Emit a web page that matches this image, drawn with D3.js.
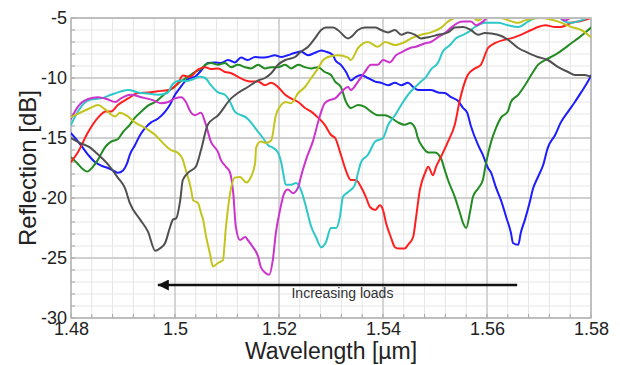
<!DOCTYPE html>
<html>
<head>
<meta charset="utf-8">
<script src="https://cdn.jsdelivr.net/npm/d3@7"></script>
<style>
  body { margin: 0; background: #fff; }
  svg { display: block; font-family: "Liberation Sans", Arial, sans-serif; }
</style>
</head>
<body>
<svg id="chart" width="620" height="365"></svg>
<script>
// Reflection spectra, [wavelength µm, reflection dB].
const gray = [[1.4800,-15.0],[1.4817,-15.4],[1.4837,-15.8],[1.4850,-16.3],[1.4869,-17.1],[1.4890,-18.3],[1.4904,-19.2],[1.4913,-20.4],[1.4933,-21.8],[1.4948,-22.8],[1.4962,-24.4],[1.4971,-24.2],[1.4981,-23.75],[1.4990,-22.5],[1.4996,-21.8],[1.5002,-21.7],[1.5010,-20.2],[1.5015,-18.5],[1.5025,-17.9],[1.5040,-17.4],[1.5050,-16.0],[1.5063,-13.9],[1.5083,-13.1],[1.5108,-11.7],[1.5121,-11.25],[1.5140,-10.75],[1.5160,-10.2],[1.5173,-10.0],[1.5185,-9.6],[1.5198,-8.9],[1.5212,-8.5],[1.5231,-8.25],[1.5242,-7.8],[1.5256,-7.4],[1.5269,-6.7],[1.5281,-6.0],[1.5290,-5.8],[1.5304,-5.8],[1.5313,-6.0],[1.5333,-6.7],[1.5338,-6.6],[1.5352,-6.0],[1.5365,-5.8],[1.5385,-5.8],[1.5396,-6.0],[1.5410,-6.2],[1.5423,-6.0],[1.5435,-6.4],[1.5448,-6.2],[1.5462,-6.4],[1.5473,-6.7],[1.5487,-6.6],[1.5506,-6.4],[1.5525,-6.2],[1.5538,-5.8],[1.5554,-5.75],[1.5569,-6.0],[1.5583,-6.4],[1.5596,-6.25],[1.5621,-6.4],[1.5640,-6.8],[1.5660,-7.5],[1.5679,-7.9],[1.5698,-8.25],[1.5717,-8.5],[1.5737,-9.1],[1.5756,-9.5],[1.5769,-9.75],[1.5788,-9.75],[1.5800,-9.9]];

const yellow = [[1.4800,-13.25],[1.4817,-12.9],[1.4837,-12.5],[1.4852,-12.25],[1.4865,-12.6],[1.4885,-13.2],[1.4894,-12.9],[1.4906,-13.1],[1.4923,-13.7],[1.4948,-14.3],[1.4962,-14.75],[1.4981,-15.6],[1.4992,-16.0],[1.5006,-16.25],[1.5015,-16.8],[1.5021,-17.7],[1.5031,-19.3],[1.5035,-20.2],[1.5044,-20.4],[1.5050,-21.25],[1.5054,-21.8],[1.5060,-23.25],[1.5067,-24.6],[1.5073,-25.7],[1.5083,-25.4],[1.5092,-25.2],[1.5098,-22.4],[1.5106,-19.6],[1.5115,-18.3],[1.5125,-18.25],[1.5137,-18.7],[1.5146,-18.25],[1.5154,-17.1],[1.5156,-15.8],[1.5165,-15.3],[1.5175,-15.4],[1.5185,-15.2],[1.5194,-13.1],[1.5204,-12.25],[1.5213,-12.0],[1.5223,-12.1],[1.5237,-11.25],[1.5250,-10.75],[1.5262,-10.0],[1.5275,-9.2],[1.5285,-8.5],[1.5294,-8.25],[1.5313,-8.1],[1.5333,-8.3],[1.5338,-8.5],[1.5352,-7.5],[1.5371,-7.0],[1.5390,-7.4],[1.5404,-7.0],[1.5423,-7.25],[1.5442,-7.0],[1.5454,-6.7],[1.5473,-6.4],[1.5492,-6.2],[1.5512,-5.8],[1.5525,-5.3],[1.5538,-5.0],[1.5554,-4.9],[1.5569,-4.9],[1.5583,-5.2],[1.5596,-4.9],[1.5627,-5.0],[1.5660,-5.4],[1.5673,-5.2],[1.5704,-5.0],[1.5737,-5.3],[1.5762,-5.75],[1.5781,-6.0],[1.5800,-6.6]];

const magenta = [[1.4800,-13.4],[1.4813,-12.4],[1.4833,-11.75],[1.4852,-11.6],[1.4869,-11.75],[1.4885,-12.0],[1.4896,-11.7],[1.4915,-11.4],[1.4935,-11.6],[1.4954,-11.8],[1.4973,-12.1],[1.4987,-12.0],[1.5000,-11.7],[1.5012,-11.6],[1.5021,-12.0],[1.5029,-12.75],[1.5038,-13.1],[1.5050,-12.9],[1.5058,-13.7],[1.5069,-15.3],[1.5083,-16.2],[1.5088,-16.8],[1.5098,-17.4],[1.5106,-17.9],[1.5112,-19.6],[1.5117,-22.4],[1.5125,-23.5],[1.5135,-23.25],[1.5140,-23.5],[1.5150,-24.1],[1.5160,-24.9],[1.5165,-25.75],[1.5173,-26.2],[1.5181,-26.4],[1.5188,-25.2],[1.5194,-22.9],[1.5202,-21.0],[1.5210,-19.6],[1.5217,-19.3],[1.5227,-19.6],[1.5237,-19.1],[1.5242,-18.25],[1.5252,-16.8],[1.5265,-15.3],[1.5279,-13.1],[1.5288,-12.1],[1.5300,-11.8],[1.5308,-11.7],[1.5319,-11.2],[1.5333,-10.75],[1.5338,-11.0],[1.5352,-10.3],[1.5365,-9.5],[1.5377,-8.9],[1.5390,-8.9],[1.5400,-8.5],[1.5413,-8.7],[1.5425,-8.1],[1.5438,-7.8],[1.5452,-7.5],[1.5463,-7.4],[1.5481,-7.1],[1.5492,-7.0],[1.5506,-6.6],[1.5519,-6.25],[1.5531,-5.8],[1.5544,-5.4],[1.5554,-5.3],[1.5569,-5.3],[1.5579,-5.6],[1.5592,-5.3],[1.5606,-4.8],[1.5625,-4.7],[1.5663,-4.6],[1.5702,-4.7],[1.5733,-4.8],[1.5742,-5.0],[1.5750,-5.2],[1.5760,-5.0],[1.5771,-4.7],[1.5800,-4.5]];

const cyan = [[1.4800,-13.9],[1.4812,-12.9],[1.4823,-12.2],[1.4838,-11.8],[1.4858,-11.7],[1.4877,-11.4],[1.4890,-11.2],[1.4910,-11.0],[1.4929,-11.2],[1.4948,-11.3],[1.4967,-11.4],[1.4985,-11.25],[1.4996,-10.5],[1.5010,-10.2],[1.5023,-10.25],[1.5035,-10.1],[1.5048,-9.9],[1.5058,-10.0],[1.5069,-10.6],[1.5083,-11.2],[1.5096,-11.4],[1.5106,-12.0],[1.5115,-12.8],[1.5127,-13.1],[1.5137,-13.3],[1.5146,-13.7],[1.5160,-14.5],[1.5169,-15.0],[1.5179,-15.6],[1.5188,-15.8],[1.5198,-16.2],[1.5204,-17.0],[1.5208,-17.9],[1.5213,-18.9],[1.5223,-18.9],[1.5233,-18.75],[1.5242,-19.3],[1.5252,-20.75],[1.5262,-22.4],[1.5271,-23.25],[1.5281,-24.1],[1.5290,-23.7],[1.5300,-22.5],[1.5310,-22.5],[1.5317,-21.6],[1.5323,-19.9],[1.5333,-19.5],[1.5346,-18.9],[1.5352,-17.9],[1.5358,-17.0],[1.5371,-16.4],[1.5385,-15.3],[1.5400,-15.0],[1.5410,-13.9],[1.5423,-13.1],[1.5435,-12.25],[1.5448,-11.4],[1.5462,-10.75],[1.5473,-10.3],[1.5483,-9.9],[1.5492,-9.3],[1.5506,-8.7],[1.5515,-7.8],[1.5529,-7.25],[1.5540,-6.7],[1.5554,-6.4],[1.5563,-6.2],[1.5577,-5.75],[1.5596,-5.4],[1.5621,-5.4],[1.5640,-5.6],[1.5660,-5.75],[1.5679,-5.3],[1.5698,-4.9],[1.5717,-4.7],[1.5737,-4.9],[1.5750,-5.3],[1.5762,-5.4],[1.5781,-5.2],[1.5800,-4.8]];

const red = [[1.4800,-17.0],[1.4813,-16.2],[1.4833,-14.5],[1.4852,-13.3],[1.4867,-12.8],[1.4877,-12.8],[1.4890,-12.25],[1.4910,-11.7],[1.4929,-11.25],[1.4948,-11.2],[1.4967,-11.1],[1.4987,-11.0],[1.5006,-10.4],[1.5015,-9.8],[1.5029,-9.9],[1.5044,-9.3],[1.5058,-9.1],[1.5069,-9.25],[1.5083,-9.2],[1.5096,-9.5],[1.5108,-9.6],[1.5121,-9.9],[1.5135,-10.2],[1.5146,-10.3],[1.5160,-10.3],[1.5173,-10.6],[1.5185,-10.4],[1.5198,-10.75],[1.5212,-11.4],[1.5223,-11.7],[1.5237,-12.0],[1.5250,-12.5],[1.5262,-12.8],[1.5275,-13.3],[1.5288,-13.9],[1.5300,-14.75],[1.5308,-15.0],[1.5319,-16.4],[1.5329,-17.75],[1.5338,-18.5],[1.5348,-18.5],[1.5358,-19.1],[1.5367,-19.9],[1.5375,-20.75],[1.5385,-21.0],[1.5394,-20.6],[1.5400,-21.0],[1.5406,-22.1],[1.5415,-23.25],[1.5423,-24.1],[1.5429,-24.2],[1.5442,-24.2],[1.5448,-23.9],[1.5458,-23.25],[1.5463,-21.8],[1.5471,-19.3],[1.5481,-17.9],[1.5487,-17.4],[1.5496,-18.1],[1.5502,-17.4],[1.5510,-16.7],[1.5525,-15.3],[1.5538,-13.9],[1.5548,-11.8],[1.5554,-10.8],[1.5563,-9.75],[1.5577,-9.2],[1.5588,-8.9],[1.5602,-7.5],[1.5615,-7.1],[1.5635,-6.8],[1.5646,-6.7],[1.5665,-6.4],[1.5685,-6.0],[1.5698,-5.75],[1.5712,-5.6],[1.5731,-5.75],[1.5742,-5.75],[1.5762,-5.4],[1.5781,-5.25],[1.5800,-5.0]];

const green = [[1.4800,-16.6],[1.4812,-17.1],[1.4823,-17.6],[1.4831,-17.8],[1.4842,-17.4],[1.4852,-16.8],[1.4865,-15.8],[1.4877,-15.3],[1.4890,-15.1],[1.4900,-14.5],[1.4913,-13.9],[1.4923,-13.3],[1.4935,-12.8],[1.4948,-12.3],[1.4962,-12.0],[1.4973,-11.6],[1.4987,-11.1],[1.5000,-10.7],[1.5012,-10.25],[1.5025,-9.9],[1.5038,-9.5],[1.5050,-9.25],[1.5058,-8.9],[1.5069,-8.75],[1.5083,-8.9],[1.5096,-8.75],[1.5108,-9.1],[1.5121,-8.9],[1.5135,-9.1],[1.5146,-9.2],[1.5160,-8.9],[1.5173,-9.2],[1.5185,-9.1],[1.5198,-9.1],[1.5212,-8.9],[1.5223,-9.2],[1.5237,-8.9],[1.5250,-9.1],[1.5262,-9.2],[1.5275,-9.1],[1.5288,-9.5],[1.5300,-9.75],[1.5308,-10.3],[1.5319,-10.75],[1.5329,-12.0],[1.5338,-12.5],[1.5352,-12.25],[1.5365,-12.4],[1.5377,-12.8],[1.5390,-13.1],[1.5404,-13.1],[1.5415,-13.3],[1.5429,-13.7],[1.5442,-13.9],[1.5452,-13.75],[1.5462,-14.2],[1.5467,-15.0],[1.5477,-15.8],[1.5487,-16.2],[1.5500,-16.2],[1.5512,-16.75],[1.5519,-17.7],[1.5525,-18.5],[1.5538,-19.9],[1.5548,-21.25],[1.5554,-22.1],[1.5560,-22.5],[1.5567,-21.25],[1.5573,-19.9],[1.5583,-19.2],[1.5592,-18.5],[1.5598,-17.1],[1.5608,-15.3],[1.5617,-14.2],[1.5627,-13.3],[1.5640,-12.8],[1.5646,-12.0],[1.5660,-11.4],[1.5673,-10.6],[1.5685,-9.75],[1.5698,-8.9],[1.5712,-8.5],[1.5723,-8.25],[1.5737,-7.9],[1.5750,-7.5],[1.5762,-7.1],[1.5775,-6.7],[1.5788,-6.25],[1.5800,-5.8]];

const blue = [[1.4800,-14.6],[1.4808,-15.0],[1.4819,-15.6],[1.4833,-16.4],[1.4846,-17.0],[1.4858,-17.3],[1.4871,-17.5],[1.4881,-17.7],[1.4890,-17.9],[1.4900,-17.7],[1.4908,-17.1],[1.4913,-16.4],[1.4923,-15.6],[1.4933,-14.75],[1.4942,-14.2],[1.4954,-13.7],[1.4967,-13.4],[1.4981,-12.8],[1.4990,-12.25],[1.5000,-11.4],[1.5010,-10.8],[1.5019,-10.3],[1.5029,-10.0],[1.5038,-9.9],[1.5050,-9.4],[1.5063,-8.75],[1.5077,-8.7],[1.5088,-8.75],[1.5102,-8.5],[1.5115,-8.7],[1.5127,-8.3],[1.5140,-8.5],[1.5154,-8.25],[1.5165,-8.3],[1.5179,-8.25],[1.5192,-8.1],[1.5204,-8.25],[1.5217,-8.1],[1.5231,-7.9],[1.5242,-7.8],[1.5256,-8.1],[1.5269,-7.9],[1.5281,-7.7],[1.5290,-7.8],[1.5304,-8.1],[1.5308,-8.5],[1.5319,-8.9],[1.5329,-9.5],[1.5338,-10.2],[1.5348,-9.9],[1.5358,-9.75],[1.5371,-10.0],[1.5385,-10.3],[1.5396,-10.4],[1.5410,-10.6],[1.5423,-10.4],[1.5435,-10.6],[1.5448,-10.4],[1.5458,-10.75],[1.5467,-11.0],[1.5481,-11.0],[1.5492,-11.0],[1.5506,-11.2],[1.5519,-11.25],[1.5531,-11.6],[1.5544,-11.9],[1.5554,-12.5],[1.5562,-12.9],[1.5569,-14.0],[1.5583,-15.6],[1.5592,-16.4],[1.5602,-17.5],[1.5608,-17.9],[1.5617,-19.1],[1.5627,-20.2],[1.5637,-21.6],[1.5646,-22.9],[1.5650,-23.75],[1.5660,-23.9],[1.5665,-22.9],[1.5673,-21.8],[1.5683,-20.2],[1.5688,-19.3],[1.5698,-18.25],[1.5708,-17.25],[1.5717,-15.8],[1.5731,-14.75],[1.5742,-13.7],[1.5756,-12.8],[1.5769,-12.0],[1.5781,-11.2],[1.5794,-10.3],[1.5800,-9.8]];

const seriesNames = ["blue", "green", "red", "cyan", "magenta", "yellow", "gray"];
const seriesData = [blue, green, red, cyan, magenta, yellow, gray];
const seriesColors = ["#1c1cff", "#228b22", "#ff1f1f", "#2ec8c8", "#cc33cc", "#c4c41e", "#505050"];

const xTicks = [1.48, 1.50, 1.52, 1.54, 1.56, 1.58];
const xTickLabels = ["1.48", "1.5", "1.52", "1.54", "1.56", "1.58"];
const yTicks = [-5, -10, -15, -20, -25, -30];
const yTickLabels = ["-5", "-10", "-15", "-20", "-25", "-30"];

// annotation arrow: from 1.5658 back to 1.4967 at -27.25 dB
const arrowFrom = [1.5658, -27.25];
const arrowTo = [1.4967, -27.25];
const arrowText = "Increasing loads";

const width = 620;
const height = 365;
const margin = { top: 18, right: 29, bottom: 47, left: 71 };

const svg = d3.select("#chart");

const x = d3.scaleLinear()
    .domain([1.48, 1.58])
    .range([margin.left, width - margin.right]);

const y = d3.scaleLinear()
    .domain([-30, -5])
    .range([height - margin.bottom, margin.top]);

// minor grid
const xMinor = d3.range(0, 26).map(i => 1.48 + i * 0.004);
const yMinor = d3.range(-30, -4);

const grid = svg.append("g");
grid.selectAll("line.xminor")
    .data(xMinor)
    .join("line")
    .attr("x1", d => x(d)).attr("x2", d => x(d))
    .attr("y1", y(-30)).attr("y2", y(-5))
    .attr("stroke", "#e6e6e6")
    .attr("stroke-width", 1);
grid.selectAll("line.yminor")
    .data(yMinor)
    .join("line")
    .attr("y1", d => y(d)).attr("y2", d => y(d))
    .attr("x1", x(1.48)).attr("x2", x(1.58))
    .attr("stroke", "#e6e6e6")
    .attr("stroke-width", 1);

// major grid
grid.selectAll("line.xmajor")
    .data(xTicks)
    .join("line")
    .attr("x1", d => x(d)).attr("x2", d => x(d))
    .attr("y1", y(-30)).attr("y2", y(-5))
    .attr("stroke", "#c4c4c4")
    .attr("stroke-width", 1.3);
grid.selectAll("line.ymajor")
    .data(yTicks)
    .join("line")
    .attr("y1", d => y(d)).attr("y2", d => y(d))
    .attr("x1", x(1.48)).attr("x2", x(1.58))
    .attr("stroke", "#c4c4c4")
    .attr("stroke-width", 1.3);

// small inward ticks along bottom and left
grid.selectAll("line.bt")
    .data(xMinor)
    .join("line")
    .attr("x1", d => x(d)).attr("x2", d => x(d))
    .attr("y1", y(-30)).attr("y2", y(-30) - 4)
    .attr("stroke", "#a0a0a0");
grid.selectAll("line.lt")
    .data(yMinor)
    .join("line")
    .attr("y1", d => y(d)).attr("y2", d => y(d))
    .attr("x1", x(1.48)).attr("x2", x(1.48) + 4)
    .attr("stroke", "#a0a0a0");

svg.append("rect")
    .attr("x", x(1.48)).attr("y", y(-5))
    .attr("width", x(1.58) - x(1.48))
    .attr("height", y(-30) - y(-5))
    .attr("fill", "none")
    .attr("stroke", "#b4b4b4")
    .attr("stroke-width", 1.3);

// clip for curves
svg.append("clipPath").attr("id", "plotclip")
    .append("rect")
    .attr("x", x(1.48)).attr("y", y(-5) + 1)
    .attr("width", x(1.58) - x(1.48))
    .attr("height", y(-30) - y(-5));

const line = d3.line()
    .x(d => x(d[0]))
    .y(d => y(d[1]))
    .curve(d3.curveMonotoneX);

svg.append("g")
    .attr("clip-path", "url(#plotclip)")
    .attr("fill", "none")
    .attr("stroke-width", 2)
    .attr("stroke-linejoin", "round")
    .attr("stroke-linecap", "round")
    .selectAll("path")
    .data(seriesData)
    .join("path")
    .attr("class", (d, i) => "series-" + seriesNames[i])
    .attr("stroke", (d, i) => seriesColors[i])
    .attr("d", line);

// axes (labels only)
svg.append("g")
    .attr("transform", `translate(0,${y(-30)})`)
    .call(d3.axisBottom(x).tickValues(xTicks).tickFormat((d, i) => xTickLabels[i]).tickSize(0).tickPadding(4))
    .call(g => g.select(".domain").remove())
    .call(g => g.selectAll("text")
        .attr("font-size", 18)
        .attr("font-family", "Liberation Sans, Arial, sans-serif")
        .attr("fill", "#222"));

svg.append("g")
    .attr("transform", `translate(${x(1.48)},0)`)
    .call(d3.axisLeft(y).tickValues(yTicks).tickFormat((d, i) => yTickLabels[i]).tickSize(0).tickPadding(4))
    .call(g => g.select(".domain").remove())
    .call(g => g.selectAll("text")
        .attr("font-size", 18)
        .attr("font-family", "Liberation Sans, Arial, sans-serif")
        .attr("fill", "#222"));

// axis titles
svg.append("text")
    .attr("x", (x(1.48) + x(1.58)) / 2)
    .attr("y", 359)
    .attr("text-anchor", "middle")
    .attr("font-size", 23)
    .attr("fill", "#222")
    .text("Wavelength [µm]");

svg.append("text")
    .attr("transform", `translate(36,${(y(-5) + y(-30)) / 2}) rotate(-90)`)
    .attr("text-anchor", "middle")
    .attr("font-size", 24)
    .attr("fill", "#222")
    .text("Reflection [dB]");

// arrow annotation
svg.append("defs").append("marker")
    .attr("id", "arrowhead")
    .attr("viewBox", "0 0 10 10")
    .attr("refX", 10).attr("refY", 5)
    .attr("markerWidth", 6).attr("markerHeight", 4.4)
    .attr("markerUnits", "strokeWidth")
    .attr("orient", "auto")
    .append("path")
    .attr("d", "M0,0L10,5L0,10z")
    .attr("fill", "#111");

svg.append("line")
    .attr("x1", x(arrowFrom[0])).attr("y1", y(arrowFrom[1]))
    .attr("x2", x(arrowTo[0])).attr("y2", y(arrowTo[1]))
    .attr("stroke", "#111")
    .attr("stroke-width", 2.5)
    .attr("marker-end", "url(#arrowhead)");

svg.append("text")
    .attr("x", x(1.5322))
    .attr("y", y(arrowFrom[1]) + 13)
    .attr("text-anchor", "middle")
    .attr("font-size", 14)
    .attr("fill", "#333")
    .text(arrowText);
</script>
</body>
</html>
